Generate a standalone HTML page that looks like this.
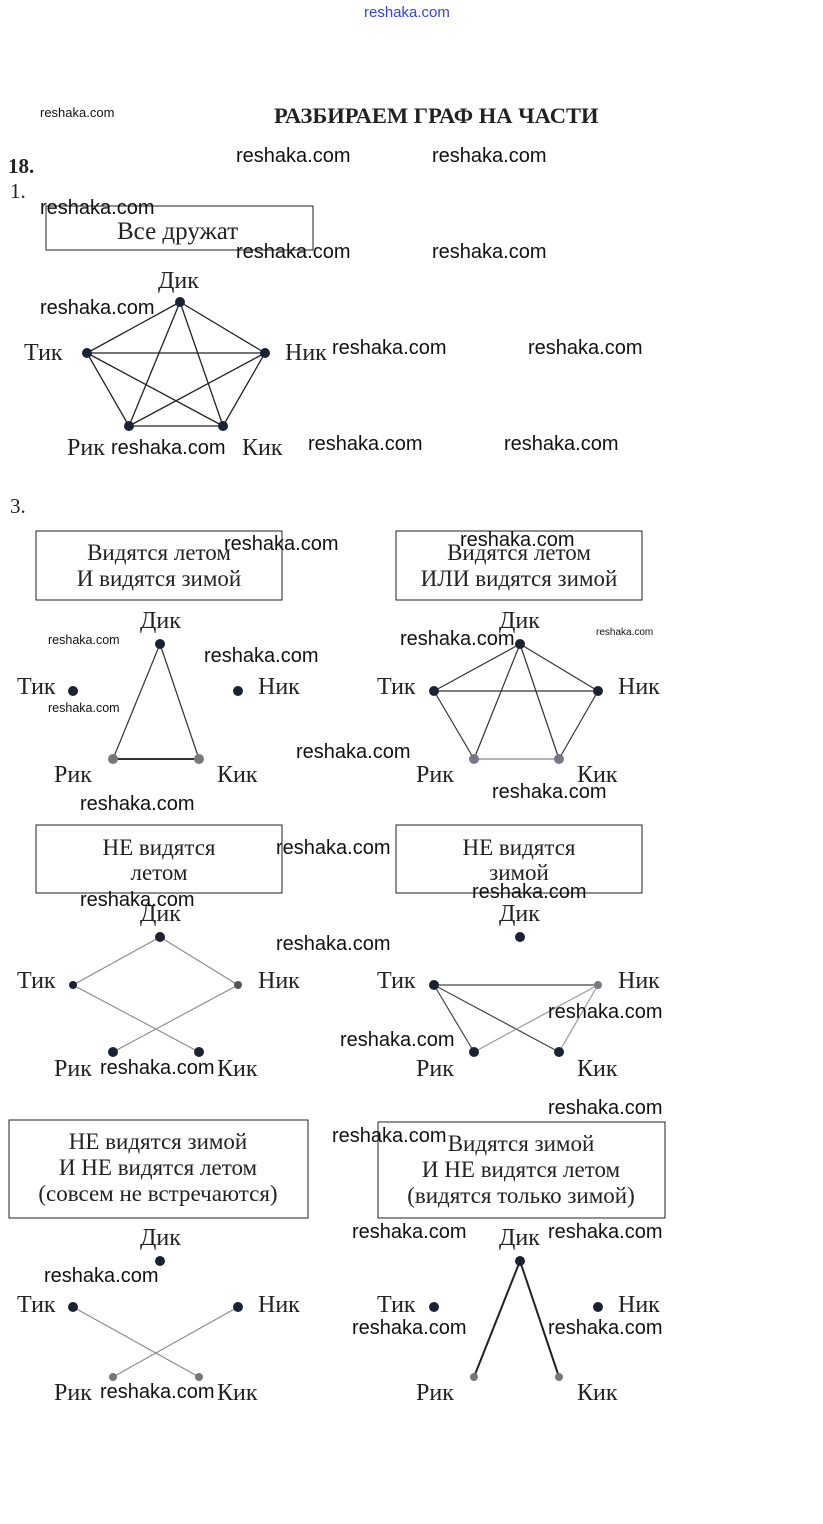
<!DOCTYPE html>
<html><head><meta charset="utf-8"><style>
body{margin:0;background:#fff}
svg text{font-family:"Liberation Serif",serif;font-size:23px;fill:#222}
svg text.w{font-family:"Liberation Sans",sans-serif;font-size:20px;fill:#111}
svg text.s{font-family:"Liberation Sans",sans-serif;font-size:12.5px;fill:#111}
svg text.l{font-size:24px}
</style></head><body>
<svg width="823" height="1519" xmlns="http://www.w3.org/2000/svg">
<text x="364" y="17" style="font-family:'Liberation Sans',sans-serif;font-size:15px;fill:#3344dd">reshaka.com</text>
<text class="s" x="40" y="117" style="font-size:13px">reshaka.com</text>
<text x="274" y="123" style="font-weight:bold;font-size:22.5px">РАЗБИРАЕМ ГРАФ НА ЧАСТИ</text>
<text x="8" y="173" style="font-weight:bold;font-size:21px">18.</text>
<text x="10" y="198" style="font-size:21px">1.</text>
<text x="10" y="513" style="font-size:21px">3.</text>
<g fill="none" stroke="#222" stroke-width="1">
<rect x="46" y="206" width="267" height="44"/>
<rect x="36" y="531" width="246" height="69"/>
<rect x="396" y="531" width="246" height="69"/>
<rect x="36" y="825" width="246" height="68"/>
<rect x="396" y="825" width="246" height="68"/>
<rect x="9" y="1120" width="299" height="98"/>
<rect x="378" y="1122" width="287" height="96"/>
</g>
<text x="117" y="239" style="font-size:25px">Все дружат</text>
<g text-anchor="middle">
<text x="159" y="560" fill="#777">Видятся летом</text>
<text x="159" y="586" fill="#777">И видятся зимой</text>
<text x="519" y="560" fill="#777">Видятся летом</text>
<text x="519" y="586" fill="#777">ИЛИ видятся зимой</text>
<text x="159" y="855">НЕ видятся</text>
<text x="159" y="880">летом</text>
<text x="519" y="855">НЕ видятся</text>
<text x="519" y="880">зимой</text>
<text x="158" y="1149">НЕ видятся зимой</text>
<text x="158" y="1175">И НЕ видятся летом</text>
<text x="158" y="1201">(совсем не встречаются)</text>
<text x="521" y="1151">Видятся зимой</text>
<text x="521" y="1177">И НЕ видятся летом</text>
<text x="521" y="1203">(видятся только зимой)</text>
</g>
<g stroke="#222" stroke-width="1.3">
<line x1="180" y1="302" x2="87" y2="353"/><line x1="180" y1="302" x2="265" y2="353"/>
<line x1="180" y1="302" x2="129" y2="426"/><line x1="180" y1="302" x2="223" y2="426"/>
<line x1="87" y1="353" x2="265" y2="353"/><line x1="87" y1="353" x2="129" y2="426"/>
<line x1="87" y1="353" x2="223" y2="426"/><line x1="265" y1="353" x2="129" y2="426"/>
<line x1="265" y1="353" x2="223" y2="426"/><line x1="129" y1="426" x2="223" y2="426"/>
</g>
<g fill="#1a2233"><circle cx="180" cy="302" r="5"/><circle cx="87" cy="353" r="5"/><circle cx="265" cy="353" r="5"/><circle cx="129" cy="426" r="5"/><circle cx="223" cy="426" r="5"/></g>
<g class="l">
<text class="l" x="158" y="288">Дик</text><text class="l" x="24" y="360">Тик</text><text class="l" x="285" y="360">Ник</text><text class="l" x="67" y="455">Рик</text><text class="l" x="242" y="455">Кик</text>
</g>
<g stroke="#333" stroke-width="1.2"><line x1="160" y1="644" x2="113" y2="759"/><line x1="160" y1="644" x2="199" y2="759"/><line x1="113" y1="759" x2="199" y2="759" stroke-width="2"/></g>
<g fill="#1a2233"><circle cx="160" cy="644" r="5"/><circle cx="73" cy="691" r="5"/><circle cx="238" cy="691" r="5"/><circle cx="113" cy="759" r="5" fill="#777"/><circle cx="199" cy="759" r="5" fill="#777"/></g>
<text class="l" x="140" y="628">Дик</text><text class="l" x="17" y="694">Тик</text><text class="l" x="258" y="694">Ник</text><text class="l" x="54" y="782" fill="#666">Рик</text><text class="l" x="217" y="782">Кик</text>
<g stroke="#333" stroke-width="1.2">
<line x1="520" y1="644" x2="434" y2="691"/><line x1="520" y1="644" x2="598" y2="691"/><line x1="434" y1="691" x2="598" y2="691"/>
<line x1="520" y1="644" x2="474" y2="759"/><line x1="520" y1="644" x2="559" y2="759"/>
<line x1="434" y1="691" x2="474" y2="759"/><line x1="598" y1="691" x2="559" y2="759"/><line x1="474" y1="759" x2="559" y2="759" stroke="#888"/></g>
<g fill="#1a2233"><circle cx="520" cy="644" r="5"/><circle cx="434" cy="691" r="5"/><circle cx="598" cy="691" r="5"/><circle cx="474" cy="759" r="5" fill="#778"/><circle cx="559" cy="759" r="5" fill="#778"/></g>
<text class="l" x="499" y="628">Дик</text><text class="l" x="377" y="694">Тик</text><text class="l" x="618" y="694">Ник</text><text class="l" x="416" y="782">Рик</text><text class="l" x="577" y="782" fill="#666">Кик</text>
<g stroke="#888" stroke-width="1.1"><line x1="160" y1="937" x2="73" y2="985"/><line x1="160" y1="937" x2="238" y2="985"/><line x1="73" y1="985" x2="199" y2="1052"/><line x1="238" y1="985" x2="113" y2="1052"/></g>
<g fill="#1a2233"><circle cx="160" cy="937" r="5"/><circle cx="73" cy="985" r="4"/><circle cx="238" cy="985" r="4" fill="#555"/><circle cx="113" cy="1052" r="5"/><circle cx="199" cy="1052" r="5"/></g>
<text class="l" x="140" y="921">Дик</text><text class="l" x="17" y="988" fill="#777">Тик</text><text class="l" x="258" y="988" fill="#777">Ник</text><text class="l" x="54" y="1076">Рик</text><text class="l" x="217" y="1076">Кик</text>
<g stroke="#444" stroke-width="1.2"><line x1="434" y1="985" x2="598" y2="985"/><line x1="434" y1="985" x2="474" y2="1052"/><line x1="434" y1="985" x2="559" y2="1052"/><line x1="598" y1="985" x2="474" y2="1052" stroke="#999"/><line x1="598" y1="985" x2="559" y2="1052" stroke="#999"/></g>
<g fill="#1a2233"><circle cx="520" cy="937" r="5"/><circle cx="434" cy="985" r="5"/><circle cx="598" cy="985" r="4" fill="#778"/><circle cx="474" cy="1052" r="5"/><circle cx="559" cy="1052" r="5"/></g>
<text class="l" x="499" y="921">Дик</text><text class="l" x="377" y="988" fill="#777">Тик</text><text class="l" x="618" y="988" fill="#888">Ник</text><text class="l" x="416" y="1076">Рик</text><text class="l" x="577" y="1076">Кик</text>
<g stroke="#888" stroke-width="1.1"><line x1="73" y1="1307" x2="199" y2="1377"/><line x1="238" y1="1307" x2="113" y2="1377"/></g>
<g fill="#1a2233"><circle cx="160" cy="1261" r="5"/><circle cx="73" cy="1307" r="5"/><circle cx="238" cy="1307" r="5"/><circle cx="113" cy="1377" r="4" fill="#777"/><circle cx="199" cy="1377" r="4" fill="#777"/></g>
<text class="l" x="140" y="1245">Дик</text><text class="l" x="17" y="1312">Тик</text><text class="l" x="258" y="1312">Ник</text><text class="l" x="54" y="1400" fill="#777">Рик</text><text class="l" x="217" y="1400" fill="#777">Кик</text>
<g stroke="#222" stroke-width="2"><line x1="520" y1="1261" x2="474" y2="1377"/><line x1="520" y1="1261" x2="559" y2="1377"/></g>
<g fill="#1a2233"><circle cx="520" cy="1261" r="5"/><circle cx="434" cy="1307" r="5"/><circle cx="598" cy="1307" r="5"/><circle cx="474" cy="1377" r="4" fill="#777"/><circle cx="559" cy="1377" r="4" fill="#777"/></g>
<text class="l" x="499" y="1245">Дик</text><text class="l" x="377" y="1312">Тик</text><text class="l" x="618" y="1312">Ник</text><text class="l" x="416" y="1400">Рик</text><text class="l" x="577" y="1400" fill="#666">Кик</text>
<text class="w" x="236" y="162">reshaka.com</text><text class="w" x="432" y="162">reshaka.com</text>
<text class="w" x="40" y="214">reshaka.com</text>
<text class="w" x="236" y="258">reshaka.com</text><text class="w" x="432" y="258">reshaka.com</text>
<text class="w" x="40" y="314">reshaka.com</text>
<text class="w" x="332" y="354">reshaka.com</text><text class="w" x="528" y="354">reshaka.com</text>
<text class="w" x="111" y="454">reshaka.com</text>
<text class="w" x="308" y="450">reshaka.com</text><text class="w" x="504" y="450">reshaka.com</text>
<text class="w" x="224" y="550">reshaka.com</text><text class="w" x="460" y="546">reshaka.com</text>
<text class="s" x="48" y="644">reshaka.com</text><text class="s" x="48" y="712">reshaka.com</text>
<text class="s" x="596" y="635" style="font-size:10px">reshaka.com</text>
<text class="w" x="204" y="662">reshaka.com</text><text class="w" x="400" y="645">reshaka.com</text>
<text class="w" x="296" y="758">reshaka.com</text><text class="w" x="492" y="798">reshaka.com</text>
<text class="w" x="80" y="810">reshaka.com</text>
<text class="w" x="276" y="854">reshaka.com</text>
<text class="w" x="80" y="906">reshaka.com</text><text class="w" x="472" y="898">reshaka.com</text>
<text class="w" x="276" y="950">reshaka.com</text>
<text class="w" x="548" y="1018">reshaka.com</text><text class="w" x="340" y="1046">reshaka.com</text>
<text class="w" x="100" y="1074">reshaka.com</text>
<text class="w" x="548" y="1114">reshaka.com</text>
<text class="w" x="332" y="1142">reshaka.com</text>
<text class="w" x="352" y="1238">reshaka.com</text><text class="w" x="548" y="1238">reshaka.com</text>
<text class="w" x="44" y="1282">reshaka.com</text>
<text class="w" x="352" y="1334">reshaka.com</text><text class="w" x="548" y="1334">reshaka.com</text>
<text class="w" x="100" y="1398">reshaka.com</text>
</svg>
</body></html>
